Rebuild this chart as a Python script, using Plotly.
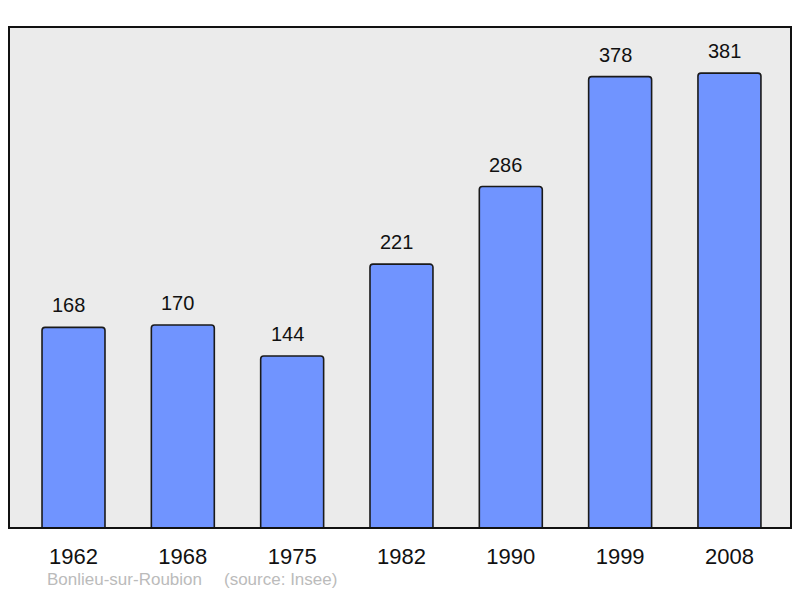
import plotly.graph_objects as go

years = ["1962", "1968", "1975", "1982", "1990", "1999", "2008"]
population = [168, 170, 144, 221, 286, 378, 381]
commune = "Bonlieu-sur-Roubion"
source = "(source: Insee)"

FONT = "Liberation Sans, Arial, sans-serif"

# page body has an 8px margin; figure sized to fit inside the 800x598 window
OFF = 8
W, H = 784, 582
ml, mr, mt, mb = 1, 1, 19, 62
pw, ph = W - ml - mr, H - mt - mb


def px_to_paper(xp, yp):
    # xp, yp: window pixel coordinates
    xf, yf = xp - OFF, yp - OFF
    return (xf - ml) / pw, (H - mb - yf) / ph


fig = go.Figure()
fig.add_trace(go.Bar(
    x=list(range(len(years))),
    y=population,
    width=0.576,
    marker=dict(color="#7094ff", line=dict(color="#1a1a1a", width=1.6), cornerradius=3),
    hoverinfo="skip",
))

for i, v in enumerate(population):
    fig.add_annotation(x=i, y=v, text=str(v), showarrow=False, xref="x", yref="y",
                       yanchor="middle", yshift=22, xshift=-5,
                       font=dict(family=FONT, size=20, color="#111"))

x0, y0 = px_to_paper(46, 589.5)
fig.add_annotation(x=x0, y=y0, xref="paper", yref="paper", text=commune, showarrow=False,
                   xanchor="left", yanchor="bottom", borderpad=0,
                   font=dict(family=FONT, size=17, color="#bbbbbb"))
x1, y1 = px_to_paper(223, 589.5)
fig.add_annotation(x=x1, y=y1, xref="paper", yref="paper", text=source, showarrow=False,
                   xanchor="left", yanchor="bottom", borderpad=0,
                   font=dict(family=FONT, size=17, color="#bbbbbb"))

fig.add_shape(type="rect", xref="paper", yref="paper", x0=0, y0=0, x1=1, y1=1,
              line=dict(color="#111", width=2), fillcolor="rgba(0,0,0,0)", layer="above")

fig.update_layout(
    width=W, height=H,
    margin=dict(l=ml, r=mr, t=mt, b=mb),
    paper_bgcolor="white",
    plot_bgcolor="#ebebeb",
    showlegend=False,
    xaxis=dict(
        range=[-0.59, 6.563],
        tickmode="array",
        tickvals=list(range(len(years))),
        ticktext=years,
        tickfont=dict(family=FONT, size=22, color="#111"),
        ticks="", showgrid=False, zeroline=False, showline=False,
        ticklabelstandoff=13,
        fixedrange=True,
    ),
    yaxis=dict(
        range=[0, 419.6],
        showticklabels=False, showgrid=False, zeroline=False, showline=False,
        fixedrange=True,
    ),
)

fig.write_html("out.html")
